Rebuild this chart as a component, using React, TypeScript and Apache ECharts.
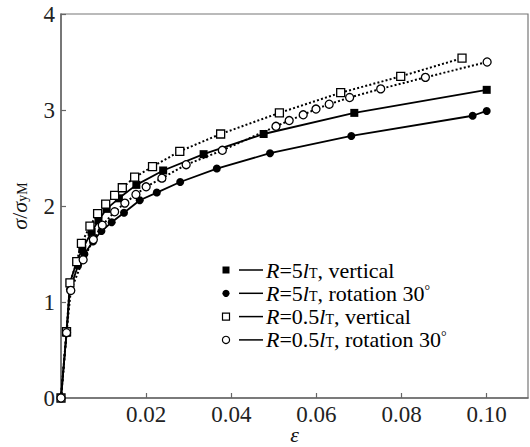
import React, { useEffect, useRef } from "react";
import * as echarts from "echarts";

// Series data [strain, normalized stress]
const seriesAName = "R=5lT, vertical";
const seriesA: [number, number][] = [
  [0, 0], [0.0013, 0.68], [0.0021, 1.2], [0.0037, 1.42], [0.005, 1.55], [0.0072, 1.73],
  [0.0088, 1.85], [0.0107, 1.97], [0.0136, 2.08], [0.0177, 2.22], [0.024, 2.37],
  [0.0335, 2.54], [0.0476, 2.75], [0.0689, 2.97], [0.1, 3.21],
];
const seriesBName = "R=5lT, rotation 30";
const seriesB: [number, number][] = [
  [0, 0], [0.0013, 0.68], [0.0021, 1.13], [0.004, 1.38], [0.0055, 1.5], [0.0075, 1.63],
  [0.0095, 1.74], [0.0119, 1.83], [0.0148, 1.93], [0.0185, 2.06], [0.0225, 2.14],
  [0.028, 2.25], [0.0366, 2.39], [0.0491, 2.55], [0.0682, 2.73], [0.0967, 2.94], [0.1, 2.99],
];
const seriesCName = "R=0.5lT, vertical";
const seriesC: [number, number][] = [
  [0, 0], [0.0013, 0.69], [0.0021, 1.2], [0.0037, 1.42], [0.0048, 1.61], [0.0068, 1.79],
  [0.0086, 1.92], [0.0105, 2.02], [0.0126, 2.11], [0.0144, 2.19], [0.0173, 2.3],
  [0.0215, 2.41], [0.0279, 2.57], [0.0375, 2.75], [0.0513, 2.97], [0.0657, 3.18],
  [0.0798, 3.35], [0.0942, 3.54],
];
const seriesDName = "R=0.5lT, rotation 30";
const seriesD: [number, number][] = [
  [0, 0], [0.0013, 0.68], [0.0023, 1.12], [0.0052, 1.44], [0.0076, 1.65], [0.0097, 1.8],
  [0.0126, 1.94], [0.015, 2.03], [0.0176, 2.12], [0.02, 2.2], [0.0237, 2.29],
  [0.0294, 2.43], [0.0379, 2.58], [0.0505, 2.83], [0.0536, 2.89], [0.0569, 2.95],
  [0.0599, 3.01], [0.063, 3.06], [0.0678, 3.13], [0.0751, 3.22], [0.0856, 3.34], [0.1001, 3.5],
];

// Legend labels as rich-text fragments
const legendTexts: string[] = [
  "{i|R}{n|=5}{i|l}{s|T}{n|, vertical}",
  "{i|R}{n|=5}{i|l}{s|T}{n|, rotation 30}{sup|°}",
  "{i|R}{n|=0.5}{i|l}{s|T}{n|, vertical}",
  "{i|R}{n|=0.5}{i|l}{s|T}{n|, rotation 30}{sup|°}",
];

const xTickLabels = ["", "0.02", "0.04", "0.06", "0.08", "0.10"];
const yTickLabels = ["0", "1", "2", "3", "4"];

const FONT = "Liberation Serif";

export default function App() {
  const ref = useRef<HTMLDivElement>(null);
  useEffect(() => {
    if (!ref.current) return;
    const chart = echarts.init(ref.current, undefined, { renderer: "svg" });

    const rich = {
      i: { fontFamily: FONT, fontStyle: "italic", fontSize: 22, lineHeight: 20, color: "#111" },
      n: { fontFamily: FONT, fontSize: 22, lineHeight: 20, color: "#111" },
      s: { fontFamily: FONT, fontSize: 14, lineHeight: 12, verticalAlign: "bottom", color: "#111" },
      sup: { fontFamily: FONT, fontSize: 14, lineHeight: 12, verticalAlign: "top", color: "#111" },
    };

    const legendY0 = 270;
    const legendDY = 23.3;
    const legendShapes = ["fsq", "fci", "osq", "oci"];
    const graphic: any[] = [];
    legendShapes.forEach((shape, k) => {
      const cy = legendY0 + k * legendDY;
      if (shape === "fsq" || shape === "osq") {
        graphic.push({
          type: "rect",
          shape: { x: 222.5, y: cy - 3.5, width: 7, height: 7 },
          style: shape === "fsq" ? { fill: "#000" } : { fill: "#fff", stroke: "#000", lineWidth: 1.2 },
        });
      } else {
        graphic.push({
          type: "circle",
          shape: { cx: 226, cy, r: 3.6 },
          style: shape === "fci" ? { fill: "#000" } : { fill: "#fff", stroke: "#000", lineWidth: 1.2 },
        });
      }
      graphic.push({
        type: "line",
        shape: { x1: 239, y1: cy, x2: 263, y2: cy },
        style: { stroke: "#000", lineWidth: 1.5 },
      });
      graphic.push({
        type: "text",
        x: 266,
        y: cy,
        style: { text: legendTexts[k], rich, verticalAlign: "middle", align: "left" },
      });
    });

    const mk = (name: string, data: [number, number][], symbol: string, filled: boolean, dotted: boolean) => ({
      name,
      type: "line",
      data,
      symbol,
      symbolSize: 8,
      showSymbol: true,
      itemStyle: filled
        ? { color: "#000", borderColor: "#000", borderWidth: 0 }
        : { color: "#fff", borderColor: "#000", borderWidth: 1.3 },
      lineStyle: { color: "#000", width: dotted ? 2 : 1.8, type: dotted ? [2, 2.2] : "solid" },
      z: dotted ? 3 : 2,
    });

    const xFmt = (v: number) => {
      const k = v / 0.02;
      const r = Math.round(k);
      return Math.abs(k - r) < 1e-6 ? xTickLabels[r] ?? "" : "";
    };
    const yFmt = (v: number) => {
      const r = Math.round(v);
      return Math.abs(v - r) < 1e-6 ? yTickLabels[r] ?? "" : "";
    };

    chart.setOption({
      animation: false,
      grid: {
        left: 61, top: 14, right: 2, bottom: 49,
        containLabel: false,
        outerBoundsMode: "none",
        show: true, borderColor: "#777", borderWidth: 1.2, backgroundColor: "transparent",
      },
      graphic,
      xAxis: {
        type: "value",
        min: 0,
        max: 0.1097,
        interval: 0.02,
        name: "ε",
        nameLocation: "middle",
        nameGap: 25,
        nameMoveOverlap: false,
        nameTextStyle: { fontFamily: FONT, fontStyle: "italic", fontSize: 22, color: "#111" },
        axisLine: { show: true, lineStyle: { color: "#666", width: 1.5 } },
        axisTick: { show: true, inside: true, length: 5, lineStyle: { color: "#666", width: 1.2 } },
        splitLine: { show: false },
        axisLabel: {
          fontFamily: FONT, fontSize: 23, color: "#222", margin: 5,
          showMaxLabel: false,
          formatter: xFmt,
        },
      },
      yAxis: {
        type: "value",
        min: 0,
        max: 4,
        interval: 1,
        name: "{i|σ}{n|/}{i|σ}{s|yM}",
        nameLocation: "middle",
        nameGap: 32,
        nameMoveOverlap: false,
        nameRotate: 90,
        nameTextStyle: { rich },
        axisLine: { show: true, lineStyle: { color: "#666", width: 1.5 } },
        axisTick: { show: true, inside: true, length: 5, lineStyle: { color: "#666", width: 1.2 } },
        splitLine: { show: false },
        axisLabel: {
          fontFamily: FONT, fontSize: 23, color: "#222", margin: 6,
          formatter: yFmt,
        },
      },
      series: [
        mk(seriesAName, seriesA, "rect", true, false),
        mk(seriesBName, seriesB, "circle", true, false),
        mk(seriesCName, seriesC, "rect", false, true),
        mk(seriesDName, seriesD, "circle", false, true),
      ],
    });
    return () => chart.dispose();
  }, []);
  return <div ref={ref} style={{ width: 530, height: 447, position: "absolute", left: 0, top: 0 }} />;
}
